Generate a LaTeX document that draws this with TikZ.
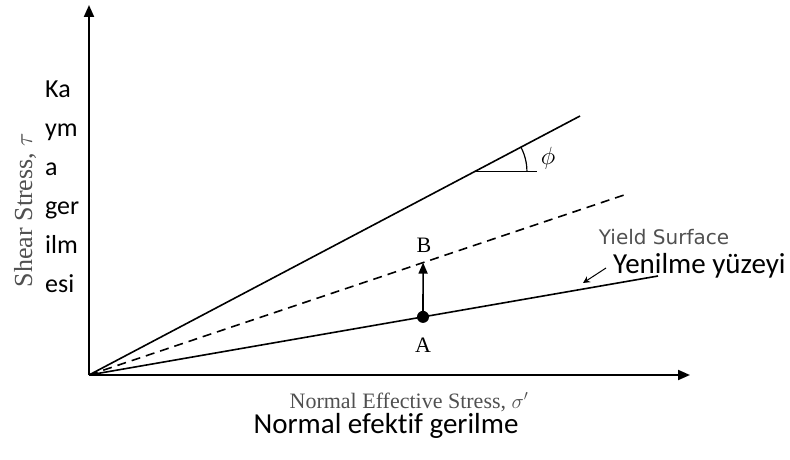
\documentclass[tikz,border=0pt]{standalone}
\usepackage{fontspec}
\setmainfont{Liberation Serif}
\newfontfamily\trfont[Ligatures={NoCommon,NoRare}]{Carlito}
\newfontfamily\ysfont{DejaVu Sans}
\usepackage{xcolor}
\usepackage{tikz}
\usetikzlibrary{arrows.meta,calc}

\definecolor{labgray}{HTML}{505050}

\begin{document}
\begin{tikzpicture}[
  x=1pt,y=1pt,
  axis/.style={line width=2pt,-{Triangle[length=12pt,width=10pt]}},
  envline/.style={line width=1.6pt},
  arr/.style={line width=1.6pt,-{Triangle[length=11pt,width=9pt]}},
  entext/.style={font=\fontsize{22}{24}\selectfont,text=labgray,inner sep=0pt},
  trtext/.style={font=\trfont\fontsize{26}{30}\selectfont,inner sep=0pt},
  trwide/.style={font=\trfont\fontsize{29}{32}\selectfont,inner sep=0pt},
  ptlabel/.style={font=\fontsize{22}{24}\selectfont,inner sep=0pt}
]
\useasboundingbox (0,0) rectangle (790,459);

% axes
\coordinate (O) at (89,84);
\coordinate (ytop) at (89,454);
\coordinate (xend) at (690,84);
\draw[axis] (O) -- (ytop);
\draw[axis] (O) -- (xend);

% envelopes
\coordinate (upper) at (580,343);
\coordinate (dash) at (627,265);
\coordinate (lower) at (658,183);
\draw[envline] (O) -- (upper);
\draw[envline,dash pattern=on 9pt off 6pt] (O) -- (dash);
\draw[envline] (O) -- (lower);

% friction angle
\coordinate (vtx) at ($(O)!0.786!(upper)$);
\coordinate (hor) at ($(vtx)+(62,0)$);
\draw[line width=1.2pt] (vtx) -- (hor);
\draw[line width=1.2pt] ($(vtx)+(52,0)$) arc[start angle=0,end angle=27.8,radius=52];
\node[font=\fontsize{24}{26}\selectfont,inner sep=0pt] (phi) at (548,301) {$\phi$};

% stress path A -> B
\coordinate (ptA) at ($(O)!0.587!(lower)$);
\coordinate (ptB) at ($(O)!0.621!(dash)$);
\fill (ptA) circle[radius=6pt];
\draw[arr] (ptA) -- (ptB);
\node[ptlabel] (labB) at (424,214) {B};
\node[ptlabel] (labA) at (423,114) {A};

% yield surface
\node[font=\ysfont\fontsize{20}{22}\selectfont,text=labgray,inner sep=0pt] (ys) at (664,222) {Yield Surface};
\node[trwide,anchor=base west] (yenilme) at (613,186) {Yenilme yüzeyi};
\coordinate (ystail) at (606,191);
\coordinate (ystip) at (583,176);
\draw[line width=1pt,-{Stealth[length=7pt,width=7pt]}] (ystail) -- (ystip);

% axis titles
\node[entext,rotate=90,font=\fontsize{26}{28}\selectfont] (shear) at (25,249) {Shear Stress, $\tau$};
\node[entext,anchor=base] (normal) at (409,51) {Normal Effective Stress, $\sigma'$};
\node[trwide,anchor=base] (normaltr) at (386,26) {Normal efektif gerilme};
\foreach \w [count=\i] in {Ka,ym,a,ger,ilm,esi}
  \node[trtext,anchor=base west] (kayma\i) at (45,{361-38.8*(\i-1)}) {\w};
\end{tikzpicture}
\end{document}
